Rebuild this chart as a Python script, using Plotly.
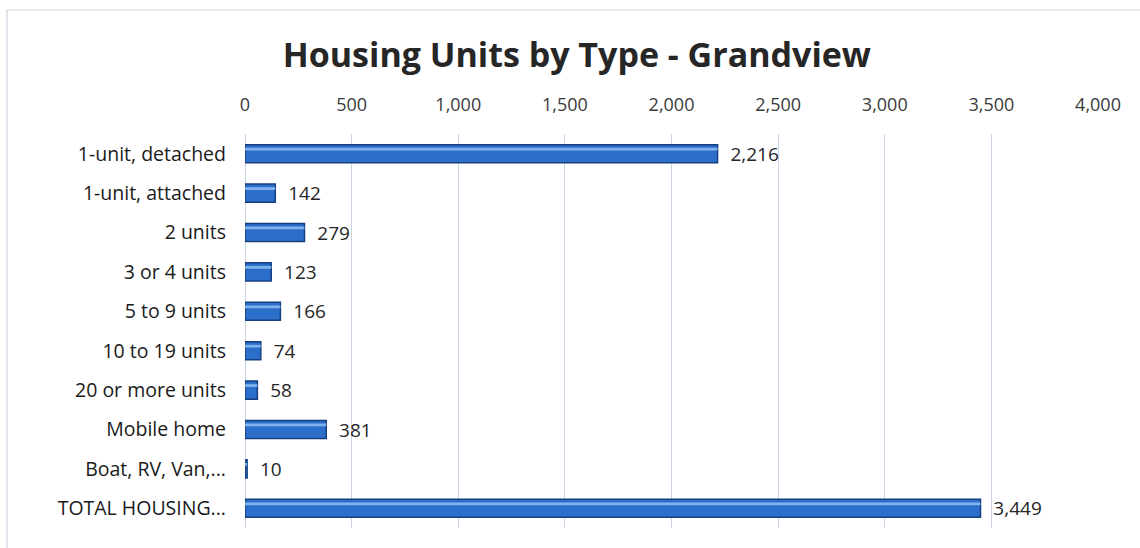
import plotly.graph_objects as go

categories = ["1-unit, detached", "1-unit, attached", "2 units", "3 or 4 units",
              "5 to 9 units", "10 to 19 units", "20 or more units", "Mobile home",
              "Boat, RV, Van,...", "TOTAL HOUSING..."]
values = [2216, 142, 279, 123, 166, 74, 58, 381, 10, 3449]
tick_vals = [0, 500, 1000, 1500, 2000, 2500, 3000, 3500, 4000]
tick_text = ["0", "500", "1,000", "1,500", "2,000", "2,500", "3,000", "3,500", "4,000"]

FONT = "'Open Sans', Lato, sans-serif"
NB = "\u00a0"

fig = go.Figure()
fig.add_trace(go.Bar(
    y=categories, x=values, orientation="h", width=0.46,
    marker=dict(color="#2c6fcb", line=dict(color="#163f80", width=1.5)),
    text=[NB * 2 + f"{v:,}" for v in values], textposition="outside",
    constraintext="none",
    textfont=dict(family=FONT, size=19, color="#262626"),
    cliponaxis=False, hoverinfo="x+y",
))
# highlight strip to mimic the glossy 3D look
fig.add_trace(go.Bar(
    y=categories, x=values, orientation="h", width=0.07, offset=-0.15,
    marker=dict(color="rgba(150,195,245,0.8)", line=dict(width=0)),
    hoverinfo="skip", showlegend=False,
))

fig.update_layout(
    width=1140, height=548,
    paper_bgcolor="white", plot_bgcolor="white",
    barmode="overlay", showlegend=False,
    margin=dict(l=245, r=42, t=134, b=20),
    title=dict(text="<b>Housing Units by Type - Grandview</b>", x=0.506, xanchor="center",
               y=0.90, yanchor="middle",
               font=dict(family=FONT, size=34, color="#262626")),
    xaxis=dict(side="top", range=[0, 4000], tickvals=tick_vals, ticktext=tick_text,
               showgrid=True, gridcolor="#c9d4e4", gridwidth=1.2,
               zeroline=True, zerolinecolor="#c9d4e4", zerolinewidth=1.2,
               showline=False, ticks="", ticklabelstandoff=18, automargin=False,
               tickfont=dict(family=FONT, size=18, color="#3a3a3a")),
    yaxis=dict(categoryorder="array", categoryarray=categories, autorange="reversed",
               showgrid=False, showline=False, ticks="", ticklabelstandoff=18,
               automargin=False,
               tickfont=dict(family=FONT, size=19.5, color="#1a1a1a")),
    shapes=[
        dict(type="line", xref="paper", yref="paper", x0=-0.279, x1=1.1,
             y0=1.3147, y1=1.3147, line=dict(color="#cdd5e0", width=1.2)),
        dict(type="line", xref="paper", yref="paper", x0=-0.279, x1=-0.279,
             y0=1.3147, y1=-0.1, line=dict(color="#cdd5e0", width=1.2)),
    ],
)

fig.write_html("out.html", config={"displayModeBar": False},
               post_script="document.body.style.margin='0px';")
